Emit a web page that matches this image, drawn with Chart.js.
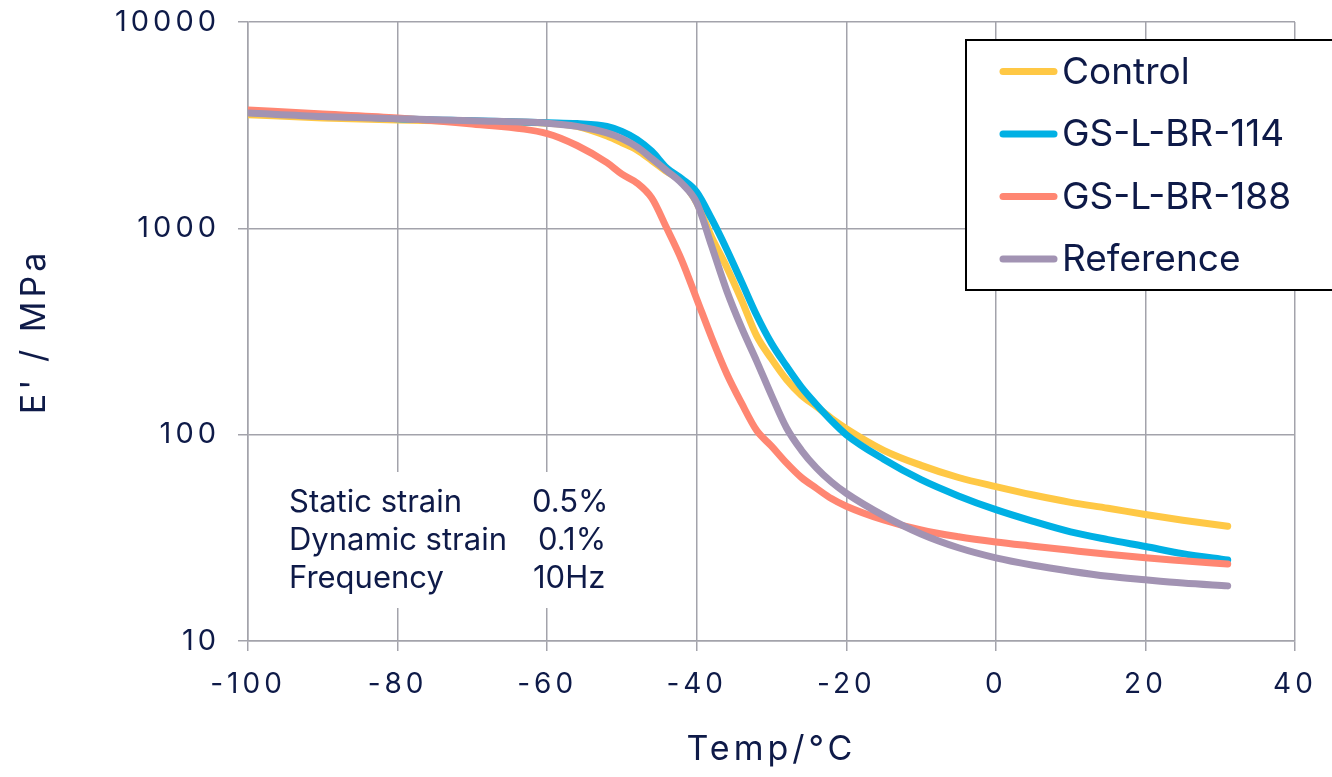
<!DOCTYPE html>
<html>
<head>
<meta charset="utf-8">
<script src="https://cdn.jsdelivr.net/npm/chart.js@4.4.1/dist/chart.umd.min.js"></script>
<style>
  html, body { margin: 0; background: #fff; }
  #wrap { width: 1332px; height: 777px; }
</style>
</head>
<body>
<div id="wrap"><canvas id="dmaChart"></canvas></div>
<script>
// temperature sweep, °C
const temps = [-100, -90, -80, -70, -60, -56, -52, -50, -48, -46, -44, -42, -40, -38, -36, -34, -32,
  -30, -28, -26, -24, -22, -20, -15, -10, -5, 0, 5, 10, 15, 20, 25, 31];

// storage modulus E' (MPa) per compound
const control = [3550, 3430, 3350, 3300, 3230, 3120, 2800, 2600, 2400, 2130, 1880, 1680, 1330, 905, 650, 449, 302,
  233, 185, 155, 137, 120, 107, 84, 71, 62, 56, 51, 47, 44, 41, 38.5, 36];
const gs114 = [3700, 3550, 3400, 3320, 3250, 3220, 3120, 2950, 2700, 2360, 1960, 1740, 1500, 1110, 792, 550, 380,
  277, 215, 170, 140, 117, 100, 76, 60.5, 50.5, 43.3, 38, 33.8, 31, 28.7, 26.5, 24.7];
const gs188 = [3750, 3580, 3430, 3200, 2880, 2520, 2080, 1830, 1660, 1400, 1000, 700, 455, 295, 198, 142, 105,
  88, 73, 62, 55, 49, 45, 38.6, 34.5, 32, 30.2, 28.8, 27.5, 26.3, 25.3, 24.5, 23.6];
const reference = [3620, 3480, 3400, 3320, 3230, 3120, 2900, 2720, 2480, 2180, 1900, 1650, 1330, 820, 500, 330, 228,
  155, 108, 84, 69, 59, 52, 40.5, 33, 28.3, 25.3, 23.3, 21.8, 20.6, 19.8, 19.1, 18.5];

const seriesNames = ["Control", "GS-L-BR-114", "GS-L-BR-188", "Reference"];
const seriesValues = [control, gs114, gs188, reference];
const seriesColors = ["#ffc845", "#00b0e4", "#ff8672", "#a293b3"];

const yTicks = [10, 100, 1000, 10000];

const notes = [
  ["Static strain", "0.5%"],
  ["Dynamic strain", "0.1%"],
  ["Frequency", "10Hz"],
];

const navy = "#0e1a48";
const gridGrey = "#a3a3ab";

// wide-ish digits like the original typeface
const tickSpacing = {
  id: "tickSpacing",
  beforeDraw(chart) {
    chart.ctx.letterSpacing = "4px";
  },
  beforeDatasetsDraw(chart) {
    chart.ctx.letterSpacing = "0px";
  },
};

const notesBox = {
  id: "notesBox",
  afterDraw(chart) {
    const ctx = chart.ctx;
    ctx.save();
    ctx.letterSpacing = "0px";
    ctx.fillStyle = "#fff";
    ctx.fillRect(256, 472, 384, 136);
    ctx.fillStyle = navy;
    ctx.font = "31px Inter";
    ctx.textBaseline = "alphabetic";
    const valueX = [532, 538, 533];
    notes.forEach(([label, value], i) => {
      const y = 512 + i * 38;
      ctx.fillText(label, 289, y);
      ctx.fillText(value, valueX[i], y);
    });
    ctx.restore();
  },
};

const legendBox = {
  id: "legendBox",
  afterDraw(chart) {
    const ctx = chart.ctx;
    ctx.save();
    ctx.letterSpacing = "0px";
    ctx.fillStyle = "#fff";
    ctx.fillRect(966, 40, 372, 250);
    ctx.strokeStyle = "#000";
    ctx.lineWidth = 2;
    ctx.strokeRect(966, 40, 372, 250);
    chart.data.datasets.forEach((ds, i) => {
      const y = 71.5 + i * 62.5;
      ctx.strokeStyle = ds.borderColor;
      ctx.lineWidth = 7;
      ctx.lineCap = "round";
      ctx.beginPath();
      ctx.moveTo(1003, y);
      ctx.lineTo(1054, y);
      ctx.stroke();
      ctx.fillStyle = navy;
      ctx.font = "37px Inter";
      ctx.textBaseline = "alphabetic";
      ctx.fillText(ds.label, 1062, y + 12);
    });
    ctx.restore();
  },
};

new Chart(document.getElementById("dmaChart"), {
  type: "line",
  data: {
    datasets: seriesNames.map((name, s) => ({
      label: name,
      data: temps.map((t, i) => ({ x: t, y: seriesValues[s][i] })),
      borderColor: seriesColors[s],
      backgroundColor: seriesColors[s],
      borderWidth: 7,
      pointRadius: 0,
      cubicInterpolationMode: "monotone",
      borderCapStyle: "round",
      borderJoinStyle: "round",
      order: seriesNames.length - s,
    })),
  },
  options: {
    responsive: true,
    maintainAspectRatio: false,
    animation: false,
    layout: { padding: { top: 22, right: 37, left: 0, bottom: 0 } },
    plugins: {
      legend: { display: false },
      tooltip: { enabled: false },
    },
    scales: {
      x: {
        type: "linear",
        min: -100,
        max: 40,
        ticks: {
          stepSize: 20,
          color: navy,
          font: { family: "Inter", size: 28 },
          padding: 17,
          maxRotation: 0,
        },
        grid: { color: gridGrey, lineWidth: 1.5, tickLength: 10 },
        border: { color: gridGrey, width: 1.5 },
        title: {
          display: true,
          text: "Temp/°C",
          color: navy,
          font: { family: "Inter", size: 34 },
          padding: { top: 0, bottom: 7 },
        },
        afterFit: (scale) => {
          scale.height = 136;
          scale.paddingLeft = 0;
          scale.paddingRight = 0;
        },
      },
      y: {
        type: "logarithmic",
        min: 10,
        max: 10000,
        afterBuildTicks: (scale) => {
          scale.ticks = yTicks.map((v) => ({ value: v }));
        },
        ticks: {
          color: navy,
          font: { family: "Inter", size: 29 },
          padding: 18,
          callback: (v) => String(v),
        },
        grid: { color: gridGrey, lineWidth: 1.5, tickLength: 10 },
        border: { color: gridGrey, width: 1.5 },
        title: {
          display: true,
          text: "E' / MPa",
          color: navy,
          font: { family: "Inter", size: 34 },
          padding: { top: 14, bottom: 0 },
        },
        afterFit: (scale) => {
          scale.width = 248;
          scale.paddingTop = 0;
          scale.paddingBottom = 0;
        },
      },
    },
  },
  plugins: [tickSpacing, notesBox, legendBox],
});
</script>
</body>
</html>
